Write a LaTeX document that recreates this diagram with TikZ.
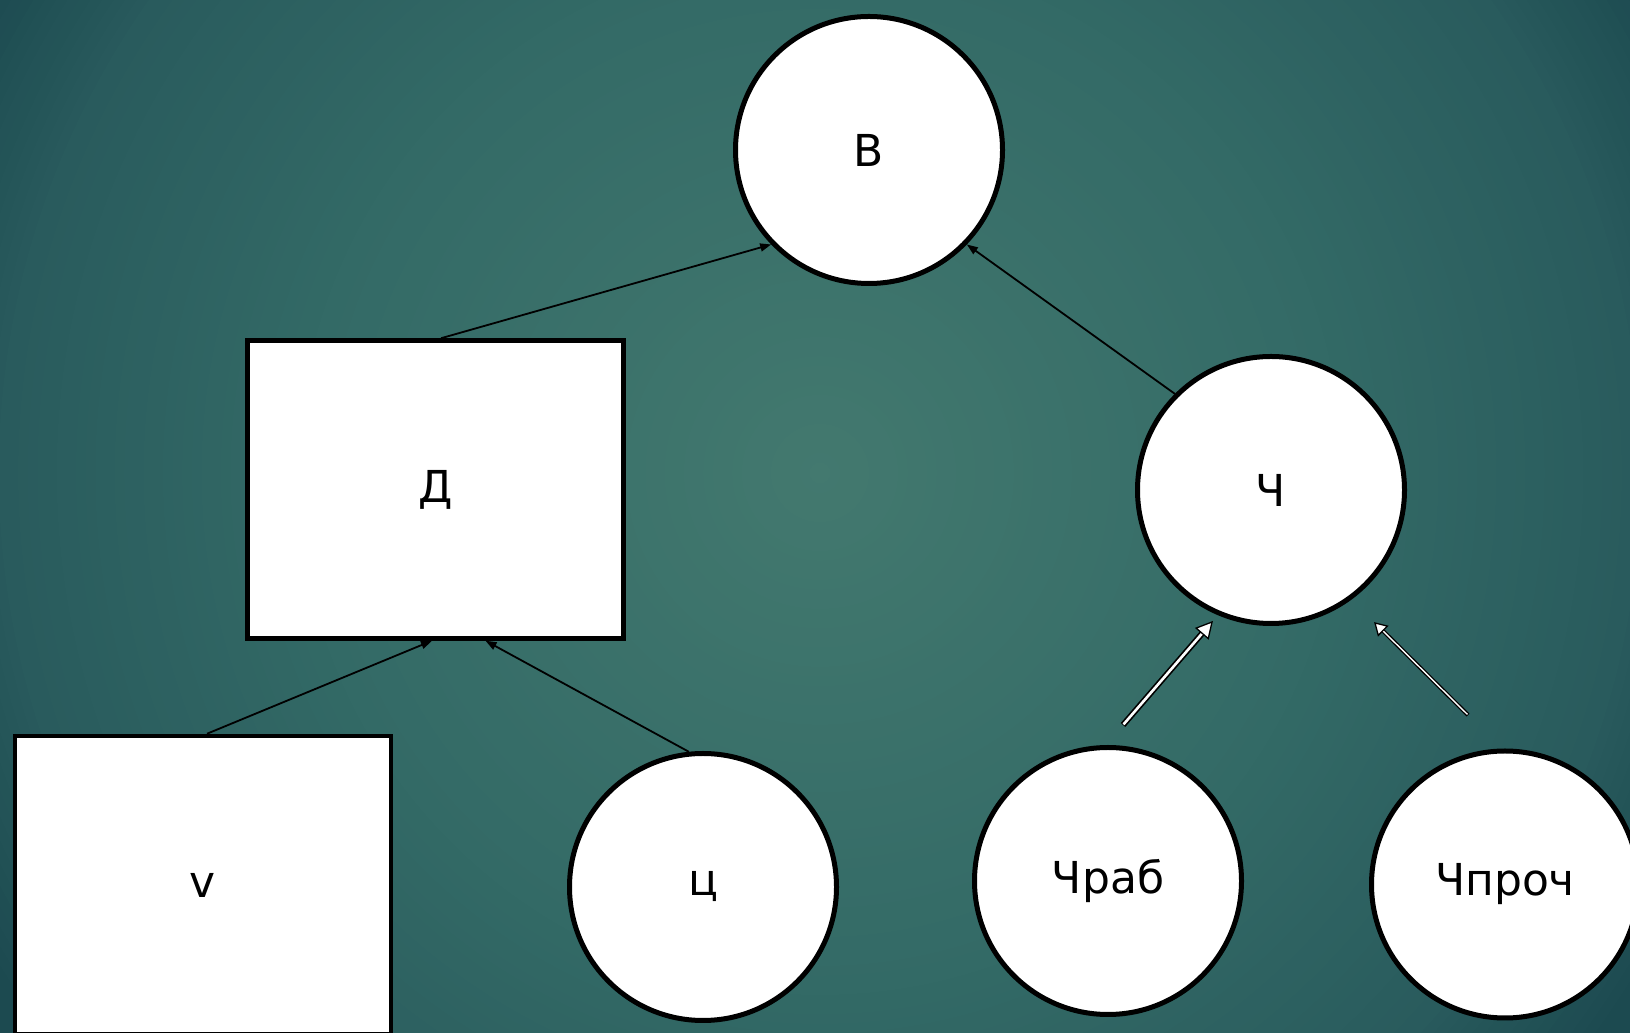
\documentclass[tikz,border=0pt]{standalone}
\usepackage{fontspec}
\setmainfont{DejaVu Sans}
\usetikzlibrary{arrows.meta,calc}
\definecolor{bgO}{HTML}{43796F}
\definecolor{bgA}{HTML}{336A66}
\definecolor{bgB}{HTML}{295B5D}
\definecolor{bgC}{HTML}{1C4A50}
\newcommand{\hollowarr}[7]{%
  \draw[line width=#3, shorten >=#6] (#1) -- (#2);
  \draw[white, line width=#4, shorten >=#6, shorten <=0.8pt] (#1) -- (#2);
  \filldraw[fill=white, draw=black, line width=1.3pt, line join=miter]
    (#2) -- ($(#2)!#5!(#1)!#7!90:(#1)$) -- ($(#2)!#5!(#1)!#7!-90:(#1)$) -- cycle;
}
\tikzset{
  circnode/.style={circle, draw=black, fill=white, line width=5pt, minimum size=267pt, inner sep=0pt, font=\fontsize{44}{53}\selectfont},
  boxnode/.style={rectangle, draw=black, fill=white, line width=4.5pt, minimum width=376pt, minimum height=298pt, inner sep=0pt, font=\fontsize{44}{53}\selectfont},
  conn/.style={line width=1.8pt, -{Triangle[length=11pt,width=8pt]}}
}
\begin{document}
\begin{tikzpicture}[x=1pt,y=1pt]
\useasboundingbox (0,0) rectangle (1630,1033);
\begin{scope}
\clip (0,0) rectangle (1630,1033);
\fill[bgC] (0,0) rectangle (1630,1033);
\foreach \i in {100,99,...,1}{
  \pgfmathsetmacro{\r}{\i/100}
  \ifdim \r pt<0.535pt
    \pgfmathsetmacro{\p}{100*\r/0.535}\colorlet{cc}{bgA!\p!bgO}
  \else\ifdim \r pt<0.845pt
    \pgfmathsetmacro{\p}{100*(\r-0.535)/0.31}\colorlet{cc}{bgB!\p!bgA}
  \else
    \pgfmathsetmacro{\p}{100*(\r-0.845)/0.155}\colorlet{cc}{bgC!\p!bgB}
  \fi\fi
  \fill[cc] (820,560) circle [radius=965*\r+1];
}
\end{scope}

\node[circnode] (B) at (869,883) {В};
\node[boxnode] (D) at (435.5,543.5) {Д};
\node[circnode] (Ch) at (1271,543) {Ч};
\node[boxnode] (V) at (203,148) {v};
\node[circnode] (Ts) at (703,146) {ц};
\node[circnode] (Cr) at (1108,152) {Чраб};
\node[circnode] (Cp) at (1505,148.5) {Чпроч};

\draw[conn] ([xshift=5.5pt]D.north) -- (B.224);
\draw[conn] (Ch.135) -- (B.316);
\draw[conn] ([xshift=4pt]V.north) -- ([xshift=-3.5pt]D.south);
\draw[conn] (Ts.96) -- ([xshift=50pt]D.south);

\coordinate (t1) at ($(Cr.center)+(15,156)$);
\coordinate (h1) at ($(Ch.center)+(-59,-132)$);
\coordinate (t2) at ($(Cp.center)+(-37,169.5)$);
\coordinate (h2) at ($(Ch.center)+(104,-133)$);
\hollowarr{t1}{h1}{6pt}{2.6pt}{15pt}{13pt}{8pt}
\hollowarr{t2}{h2}{4pt}{1.4pt}{11pt}{9pt}{6.5pt}
\end{tikzpicture}
\end{document}
